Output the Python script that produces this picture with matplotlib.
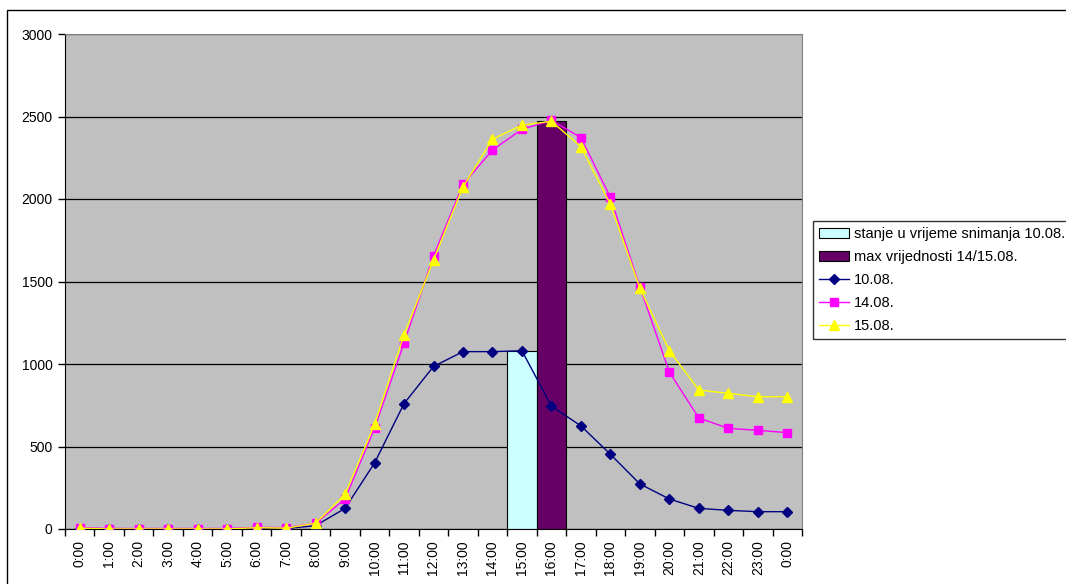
import numpy as np
import matplotlib
matplotlib.use("Agg")
import matplotlib.pyplot as plt
from matplotlib.patches import Rectangle, Patch
from matplotlib.lines import Line2D

plt.rcParams['font.family'] = ['Liberation Sans', 'DejaVu Sans']

# hours on the x axis (last one is midnight of the next day)
hours = ['0:00', '1:00', '2:00', '3:00', '4:00', '5:00', '6:00', '7:00', '8:00',
         '9:00', '10:00', '11:00', '12:00', '13:00', '14:00', '15:00', '16:00',
         '17:00', '18:00', '19:00', '20:00', '21:00', '22:00', '23:00', '0:00']

# daily curves
d_10_08 = [0, 0, 0, 0, 0, 0, 3, 3, 20, 125, 400, 760, 985, 1075, 1075, 1080, 745,
           625, 453, 273, 182, 125, 113, 105, 105]
d_14_08 = [8, 3, 3, 3, 3, 3, 10, 8, 35, 182, 610, 1127, 1655, 2088, 2297, 2422, 2477,
           2372, 2010, 1467, 951, 673, 610, 598, 584]
d_15_08 = [5, 0, 0, 0, 0, 0, 8, 5, 35, 210, 634, 1176, 1630, 2073, 2362, 2448, 2471,
           2317, 1968, 1460, 1081, 842, 822, 802, 802]

# bars: state at survey time (15:00) and max value (16:00)
bar_now_idx, bar_now_val = 15, 1080
bar_max_idx, bar_max_val = 16, 2470

x = np.arange(len(hours))

fig = plt.figure(figsize=(10.66, 5.84), dpi=100)
fig.patch.set_facecolor('white')

# outer chart border
fig.patches.append(Rectangle((7 / 1066, -0.1), 1.2, 1 - 10 / 584 + 0.1,
                             transform=fig.transFigure, fill=False,
                             edgecolor='black', linewidth=1))

ax = fig.add_axes([65 / 1066, 1 - 529 / 584, (802 - 65) / 1066, (529 - 34) / 584])
ax.set_facecolor('#C0C0C0')

ax.bar(bar_now_idx, bar_now_val, width=1.0, color='#CCFFFF', edgecolor='black',
       linewidth=0.8, zorder=2)
ax.bar(bar_max_idx, bar_max_val, width=1.0, color='#660066', edgecolor='black',
       linewidth=0.8, zorder=2)

ax.plot(x, d_10_08, color='#000080', marker='D', markersize=5, linewidth=1, zorder=3)
ax.plot(x, d_14_08, color='#FF00FF', marker='s', markersize=5.5, linewidth=1, zorder=4)
ax.plot(x, d_15_08, color='#FFFF00', marker='^', markersize=7, linewidth=1, zorder=5)

ax.set_xlim(-0.5, len(hours) - 0.5)
ax.set_ylim(0, 3000)
ax.set_yticks(np.arange(0, 3001, 500))
ax.yaxis.grid(True, color='black', linewidth=0.9)
ax.set_axisbelow(True)

ax.set_xticks(x)
ax.set_xticklabels(hours, rotation=90, fontsize=10)
ax.set_xticks(np.arange(-0.5, len(hours), 1), minor=True)
ax.tick_params(axis='x', which='major', length=0, pad=8)
ax.tick_params(axis='x', which='minor', length=5, width=1, direction='out')
ax.tick_params(axis='y', length=5, width=1, direction='out', labelsize=10, pad=4)

for side in ['top', 'right']:
    ax.spines[side].set_color('#808080')
ax.spines['left'].set_color('black')
ax.spines['bottom'].set_color('black')

handles = [
    Patch(facecolor='#CCFFFF', edgecolor='black', linewidth=0.8),
    Patch(facecolor='#660066', edgecolor='black', linewidth=0.8),
    Line2D([], [], color='#000080', marker='D', markersize=5, linewidth=1),
    Line2D([], [], color='#FF00FF', marker='s', markersize=5.5, linewidth=1),
    Line2D([], [], color='#FFFF00', marker='^', markersize=7, linewidth=1),
]
labels = ['stanje u vrijeme snimanja 10.08.', 'max vrijednosti 14/15.08.',
          '10.08.', '14.08.', '15.08.']
leg = fig.legend(handles, labels, loc='upper left',
                 bbox_to_anchor=(813 / 1066, 1 - 221 / 584),
                 fontsize=10.5, frameon=True, fancybox=False, borderpad=0.4,
                 handlelength=2.1, handletextpad=0.3, labelspacing=0.62,
                 borderaxespad=0)
leg.get_frame().set_edgecolor('black')
leg.get_frame().set_linewidth(1)

fig.savefig('out.png', dpi=100)
